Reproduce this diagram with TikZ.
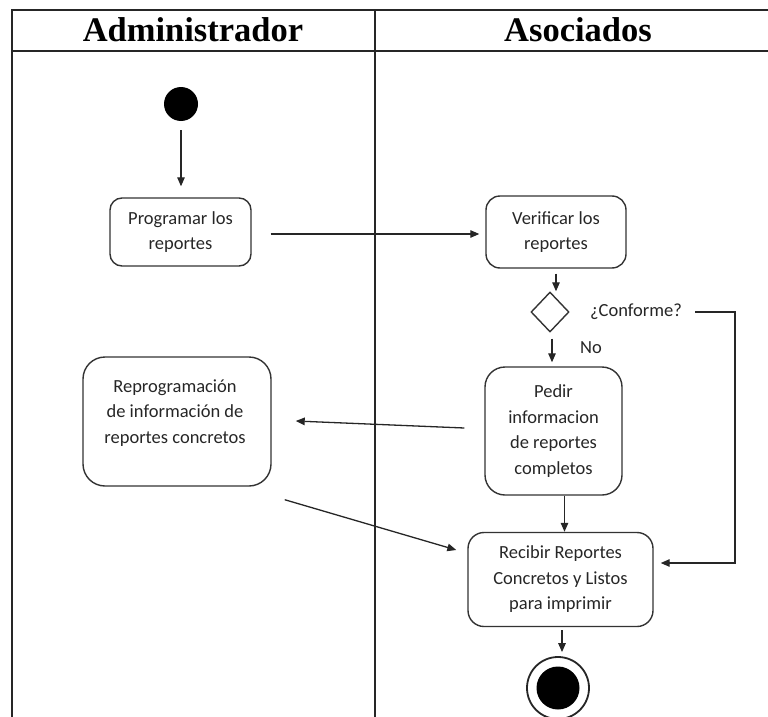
\documentclass[tikz,border=0pt]{standalone}
\usepackage{fontspec}
\setmainfont{Carlito}
\newfontfamily\hdrfont{Liberation Serif}
\usetikzlibrary{arrows.meta,shapes.geometric}
\begin{document}
\begin{tikzpicture}[x=1pt,y=-1pt,
  lane/.style={line width=1.6pt, draw=black!85},
  act/.style={draw=black!80, line width=1.4pt, rounded corners=14pt, align=center, inner sep=0pt, font=\fontsize{18.5}{25.5}\selectfont, text=black!85},
  lbl/.style={font=\fontsize{18.5}{25.5}\selectfont, text=black!85, inner sep=0pt},
  hdr/.style={font=\hdrfont\bfseries\fontsize{34.5}{40}\selectfont, inner sep=0pt},
  arr/.style={line width=1.3pt, draw=black!85, -{Triangle[length=9pt,width=7.5pt]}},
]
\useasboundingbox (0,0) rectangle (768,717);
\clip (0,0) rectangle (768,717);
% swimlanes
\draw[lane] (11.7,730) -- (11.7,10) -- (790,10);
\draw[lane] (11.7,51) -- (790,51);
\draw[lane] (375,10) -- (375,730);
\node[hdr, anchor=base] (h1) at (193,41.5) {Administrador};
\node[hdr, anchor=base] (h2) at (578,41.5) {Asociados};
% nodes
\node[circle, fill=black, minimum size=34pt, inner sep=0pt] (start) at (181,104) {};
\node[act, minimum width=141pt, minimum height=68pt, rounded corners=12pt] (prog) at (180.5,232) {Programar los\\reportes};
\node[act, minimum width=140pt, minimum height=72pt] (verif) at (556,232) {Verificar los\\reportes};
\node[draw=black!80, line width=1.4pt, diamond, minimum width=38pt, minimum height=40pt, inner sep=0pt] (dec) at (550,312) {};
\node[lbl] (conf) at (636,312) {¿Conforme?};
\node[lbl] (no) at (591,348) {No};
\node[act, minimum width=137pt, minimum height=128pt, rounded corners=20pt] (pedir) at (553.5,431) {Pedir\\informacion\\de reportes\\completos};
\node[act, minimum width=188pt, minimum height=129pt, rounded corners=22pt] (repro) at (177,421.5) {};
\node[lbl, align=center] (reprotxt) at (175,413) {Reprogramación\\de información de\\reportes concretos};
\node[act, minimum width=185pt, minimum height=94pt, rounded corners=16pt] (recib) at (560.5,579.5) {Recibir Reportes\\Concretos y Listos\\para imprimir};
\node[circle, draw=black!85, line width=1.8pt, minimum size=62pt, inner sep=0pt] (endo) at (558,688) {};
\node[circle, fill=black, minimum size=43pt, inner sep=0pt] (endi) at (558,688) {};
\coordinate (k) at (735,312);
% connectors
\draw[arr] ([yshift=-9pt]start.south) -- ([yshift=11pt]start.south |- prog.north);
\draw[arr] ([xshift=19pt,yshift=-2pt]prog.east) -- ([xshift=-6pt,yshift=-2pt]verif.west);
\draw[arr] ([yshift=-5pt]verif.south) -- (verif.south |- dec.north);
\draw[arr] ([xshift=2pt,yshift=-6pt]dec.south) -- ([xshift=2pt,yshift=4pt]dec.south |- pedir.north);
\draw[arr] ([xshift=13pt]conf.east) -- (k) |- ([xshift=7pt,yshift=16.5pt]recib.east);
\draw[arr] ([xshift=-20pt,yshift=3pt]pedir.west) -- ([xshift=24pt,yshift=0.5pt]repro.east);
\draw[arr] ([xshift=13pt,yshift=-13pt]repro.south east) -- ([xshift=-11pt,yshift=29.5pt]recib.west);
\draw[arr] ([xshift=11pt]pedir.south) -- ([xshift=11pt]pedir.south |- recib.north);
\draw[arr] ([xshift=1.5pt,yshift=-3pt]recib.south) -- ([xshift=1.5pt,yshift=4pt]recib.south |- endo.north);
\end{tikzpicture}
\end{document}
